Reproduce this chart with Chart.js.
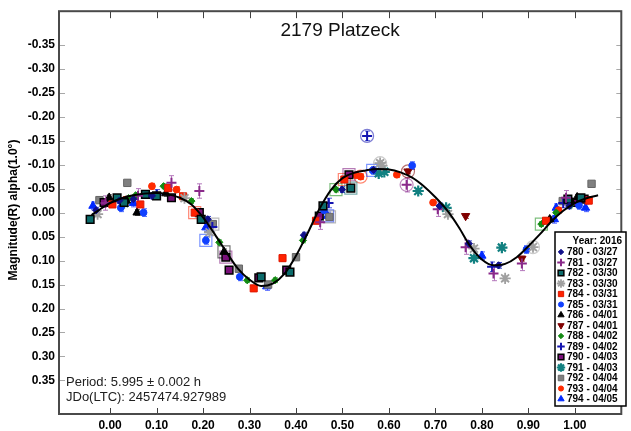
<!DOCTYPE html>
<html>
<head>
<meta charset="utf-8">
<title>2179 Platzeck</title>
<script src="https://cdn.jsdelivr.net/npm/chart.js@4.4.1/dist/chart.umd.min.js"></script>
<style>
  html, body { margin: 0; padding: 0; background: #fff; }
  #wrap { width: 631px; height: 431px; }
</style>
</head>
<body>
<div id="wrap"><canvas id="lightcurve" width="631" height="431"></canvas></div>
<script>
"use strict";

const titleText = "2179 Platzeck";
const yAxisTitle = "Magnitude(R) alpha(1.0°)";
const periodText = "Period: 5.995 ± 0.002 h";
const epochText = "JDo(LTC): 2457474.927989";
const legendHeader = "Year: 2016";

const xTicks = [0.0, 0.1, 0.2, 0.3, 0.4, 0.5, 0.6, 0.7, 0.8, 0.9, 1.0];
const yTicks = [-0.35, -0.30, -0.25, -0.20, -0.15, -0.10, -0.05, 0.00, 0.05, 0.10, 0.15, 0.20, 0.25, 0.30, 0.35];

const sessionIds = ["780", "781", "782", "783", "784", "785", "786", "787", "788", "789", "790", "791", "792", "793", "794"];
const sessionDates = ["03/27", "03/27", "03/30", "03/30", "03/31", "03/31", "04/01", "04/01", "04/02", "04/02", "04/03", "04/03", "04/04", "04/04", "04/05"];
const sessionErr = [0.006, 0.015, 0.006, 0.006, 0.006, 0.008, 0.006, 0.005, 0.005, 0.010, 0.006, 0.005, 0.006, 0.006, 0.008];

// [phase, magnitude] per session
const s780 = [[-0.030, -0.005], [0.020, -0.025], [0.050, -0.028], [0.090, -0.035], [0.210, 0.014], [0.417, 0.047], [0.499, -0.048], [0.567, -0.089], [0.709, -0.014], [0.772, 0.065], [0.836, 0.110], [0.988, -0.014]];
const s781 = [[-0.010, -0.020], [0.060, -0.035], [0.132, -0.062], [0.192, -0.045], [0.452, 0.020], [0.638, -0.058], [0.705, -0.007], [0.765, 0.072], [0.825, 0.127], [0.886, 0.106], [0.981, -0.031]];
const s782 = [[-0.043, 0.014], [0.015, -0.031], [0.030, -0.021], [0.076, -0.038], [0.100, -0.035], [0.196, 0.014], [0.325, 0.134], [0.387, 0.124], [0.458, -0.014], [0.518, -0.051], [0.985, -0.028], [1.013, -0.031]];
const s783 = [[-0.027, 0.003], [0.160, -0.030], [0.214, 0.041], [0.581, -0.103], [0.585, -0.098], [0.727, 0.003], [0.783, 0.075], [0.850, 0.137], [0.910, 0.072]];
const s784 = [[0.005, -0.017], [0.065, -0.017], [0.125, -0.051], [0.157, -0.034], [0.182, 0.000], [0.309, 0.158], [0.371, 0.095], [0.443, 0.017], [0.504, -0.069], [0.938, 0.017], [1.030, -0.025]];
const s785 = [[0.023, -0.010], [0.072, 0.000], [0.206, 0.058], [0.279, 0.134], [0.460, -0.005], [0.565, -0.088], [0.650, -0.098], [0.896, 0.077], [1.009, -0.015]];
const s786 = [[-0.002, -0.031], [0.035, -0.025], [0.058, 0.000], [0.120, -0.040], [0.245, 0.082], [0.946, 0.014], [0.992, -0.024], [1.005, -0.032]];
const s787 = [[0.641, -0.086], [0.765, 0.007], [0.886, 0.096]];
const s788 = [[0.040, -0.030], [0.055, -0.036], [0.115, -0.055], [0.175, -0.024], [0.235, 0.062], [0.295, 0.141], [0.355, 0.141], [0.415, 0.058], [0.486, -0.048], [0.928, 0.024], [0.960, 0.000], [0.990, -0.015]];
const s789 = [[0.100, -0.038], [0.220, 0.030], [0.470, -0.020], [0.553, -0.160], [0.822, 0.113], [0.975, -0.020]];
const s790 = [[-0.013, -0.021], [0.132, -0.031], [0.192, 0.000], [0.249, 0.093], [0.256, 0.120], [0.320, 0.136], [0.380, 0.120], [0.450, 0.007], [0.514, -0.079], [0.999, -0.021], [1.020, -0.028]];
const s791 = [[0.030, -0.020], [0.578, -0.082], [0.590, -0.085], [0.663, -0.045], [0.723, -0.010], [0.783, 0.095], [0.843, 0.073]];
const s792 = [[-0.023, -0.026], [0.037, -0.062], [0.221, 0.024], [0.277, 0.117], [0.340, 0.150], [0.400, 0.093], [0.472, 0.009], [0.974, -0.024], [1.036, -0.060]];
const s793 = [[0.033, -0.027], [0.090, -0.055], [0.143, -0.048], [0.530, -0.078], [0.539, -0.075], [0.617, -0.079], [0.695, -0.021], [0.965, -0.005], [1.027, -0.027]];
const s794 = [[-0.037, -0.014], [0.050, -0.020], [0.206, 0.031], [0.337, 0.154], [0.468, 0.007], [0.800, 0.090], [0.956, 0.014], [0.960, -0.010], [1.023, -0.010]];

// points that carry an extra open marker: [session, point index]
const ringedPoints = [["781", 5], ["782", 9], ["783", 3], ["783", 8], ["784", 4], ["784", 8], ["785", 2], ["785", 5], ["786", 4], ["787", 0], ["788", 8], ["788", 9], ["789", 3], ["790", 3], ["790", 8], ["792", 6], ["792", 2], ["793", 4], ["794", 4]];

// Fourier fit
const fitPhase = [-0.04, -0.02, 0.00, 0.025, 0.05, 0.075, 0.10, 0.125, 0.15, 0.175, 0.20, 0.225, 0.25, 0.275, 0.30, 0.325, 0.35, 0.375, 0.40, 0.425, 0.45, 0.475, 0.50, 0.525, 0.55, 0.575, 0.60, 0.625, 0.65, 0.675, 0.70, 0.725, 0.75, 0.775, 0.80, 0.825, 0.85, 0.875, 0.90, 0.925, 0.95, 0.975, 1.00, 1.025, 1.05];
const fitMag = [0.005, -0.008, -0.020, -0.030, -0.036, -0.040, -0.041, -0.038, -0.031, -0.017, 0.010, 0.045, 0.082, 0.117, 0.140, 0.153, 0.148, 0.128, 0.090, 0.043, -0.007, -0.047, -0.072, -0.083, -0.088, -0.091, -0.090, -0.084, -0.073, -0.055, -0.032, -0.005, 0.030, 0.070, 0.098, 0.110, 0.107, 0.093, 0.070, 0.045, 0.018, -0.004, -0.020, -0.030, -0.036];

const sessionPoints = [s780, s781, s782, s783, s784, s785, s786, s787, s788, s789, s790, s791, s792, s793, s794];

const FONT = '"Liberation Sans", Arial, sans-serif';

const markerStyles = {
  "780": { style: "rectRot", radius: 3.6, fill: "#10108a", line: "#10108a", width: 1, err: "#3848c8" },
  "781": { style: "cross", radius: 5, fill: "#8a2a8a", line: "#8a2a8a", width: 2, err: "#b478bc" },
  "782": { style: "rect", radius: 5.4, fill: "#0b6b6b", line: "#000000", width: 1.5, err: "#3a9a9a" },
  "783": { style: "star", radius: 5.6, fill: "#a0a0a0", line: "#a0a0a0", width: 1.8, err: "#b8b8b8" },
  "784": { style: "rect", radius: 5, fill: "#ff2200", line: "#e01800", width: 1, err: "#ff6a50" },
  "785": { style: "circle", radius: 3.4, fill: "#1040ff", line: "#1040ff", width: 1, err: "#4a68ff" },
  "786": { style: "triangle", radius: 4.8, fill: "#000000", line: "#000000", width: 1, err: "#505050" },
  "787": { style: "triangle", rotation: 180, radius: 4.8, fill: "#800000", line: "#800000", width: 1, err: "#a04040" },
  "788": { style: "rectRot", radius: 3.6, fill: "#128a12", line: "#128a12", width: 1, err: "#50a850" },
  "789": { style: "cross", radius: 5, fill: "#1414b0", line: "#1414b0", width: 2, err: "#4a58d8" },
  "790": { style: "rect", radius: 5.4, fill: "#7a107a", line: "#000000", width: 1.5, err: "#a860a8" },
  "791": { style: "star", radius: 5.6, fill: "#118080", line: "#118080", width: 2.2, err: "#3a9a9a" },
  "792": { style: "rect", radius: 5.2, fill: "#808080", line: "#666666", width: 1, err: "#a0a0a0" },
  "793": { style: "circle", radius: 3.4, fill: "#ff2a00", line: "#ff2a00", width: 1, err: "#ff6a50" },
  "794": { style: "triangle", radius: 4.8, fill: "#0028ff", line: "#0028ff", width: 1, err: "#4a60ff" },
};

const ringShape = {
  "780": "rect", "781": "circle", "782": "rect", "783": "circle", "784": "rect",
  "785": "rect", "786": "rect", "787": "circle", "788": "rect", "789": "circle",
  "790": "rect", "791": "circle", "792": "rect", "793": "circle", "794": "rect",
};

function withAlpha(hex, alpha) {
  const n = parseInt(hex.slice(1), 16);
  return `rgba(${(n >> 16) & 255}, ${(n >> 8) & 255}, ${n & 255}, ${alpha})`;
}

function toXY(pairs) {
  return pairs.map(([x, y]) => ({ x, y }));
}

function buildDatasets() {
  const datasets = [];

  datasets.push({
    label: "fit",
    data: fitPhase.map((x, i) => ({ x, y: fitMag[i] })),
    showLine: true,
    borderColor: "#000000",
    borderWidth: 2,
    pointRadius: 0,
    cubicInterpolationMode: "monotone",
    order: 0,
  });

  sessionIds.forEach((id, i) => {
    const m = markerStyles[id];
    datasets.push({
      label: `${id} - ${sessionDates[i]}`,
      data: toXY(sessionPoints[i]),
      pointStyle: m.style,
      pointRadius: m.radius,
      pointRotation: m.rotation || 0,
      pointBackgroundColor: m.fill,
      pointBorderColor: m.line,
      pointBorderWidth: m.width,
      order: 1,
    });
  });

  for (const [id, index] of ringedPoints) {
    const i = sessionIds.indexOf(id);
    const [x, y] = sessionPoints[i][index];
    const shape = ringShape[id];
    datasets.push({
      label: `ring ${id}`,
      data: [{ x, y }],
      pointStyle: shape,
      pointRadius: shape === "rect" ? 8.5 : 6.5,
      pointBackgroundColor: "rgba(0,0,0,0)",
      pointBorderColor: withAlpha(markerStyles[id].fill, 0.55),
      pointBorderWidth: 1.2,
      order: 2,
    });
  }
  return datasets;
}

const errorBars = {
  id: "errorBars",
  beforeDatasetsDraw(chart) {
    const { ctx, scales } = chart;
    ctx.save();
    ctx.lineWidth = 1;
    sessionIds.forEach((id, i) => {
      ctx.strokeStyle = markerStyles[id].err;
      const e = sessionErr[i];
      for (const [p, m] of sessionPoints[i]) {
        const x = Math.round(scales.x.getPixelForValue(p)) + 0.5;
        const y1 = scales.y.getPixelForValue(m - e);
        const y2 = scales.y.getPixelForValue(m + e);
        ctx.beginPath();
        ctx.moveTo(x, y1);
        ctx.lineTo(x, y2);
        ctx.moveTo(x - 2.5, y1);
        ctx.lineTo(x + 2.5, y1);
        ctx.moveTo(x - 2.5, y2);
        ctx.lineTo(x + 2.5, y2);
        ctx.stroke();
      }
    });
    ctx.restore();
  },
};

const frame = {
  id: "frame",
  afterDraw(chart) {
    const { ctx, chartArea: a, scales } = chart;
    ctx.save();

    // inward tick marks
    ctx.lineWidth = 1;
    ctx.strokeStyle = "#404040";
    for (const v of xTicks) {
      const x = Math.round(scales.x.getPixelForValue(v)) + 0.5;
      ctx.beginPath();
      ctx.moveTo(x, a.top);
      ctx.lineTo(x, a.top + 7);
      ctx.moveTo(x, a.bottom);
      ctx.lineTo(x, a.bottom - 6);
      ctx.stroke();
    }
    ctx.strokeStyle = "#a8a8a8";
    for (const v of yTicks) {
      const y = Math.round(scales.y.getPixelForValue(v)) + 0.5;
      ctx.beginPath();
      ctx.moveTo(a.left, y);
      ctx.lineTo(a.left + 6, y);
      ctx.moveTo(a.right, y);
      ctx.lineTo(a.right - 5, y);
      ctx.stroke();
    }

    ctx.lineWidth = 2;
    ctx.strokeStyle = "#4a4a4a";
    ctx.strokeRect(a.left, a.top, a.right - a.left, a.bottom - a.top);

    ctx.fillStyle = "#111111";
    ctx.textAlign = "center";
    ctx.textBaseline = "middle";
    ctx.font = `19px ${FONT}`;
    ctx.fillText(titleText, (a.left + a.right) / 2, 31);

    ctx.font = `13px ${FONT}`;
    ctx.textAlign = "left";
    ctx.fillStyle = "#202020";
    ctx.fillText(periodText, 66, 382);
    ctx.fillText(epochText, 66, 397);

    ctx.save();
    ctx.translate(14, 210);
    ctx.rotate(-Math.PI / 2);
    ctx.textAlign = "center";
    ctx.fillStyle = "#000000";
    ctx.font = `bold 12px ${FONT}`;
    ctx.fillText(yAxisTitle, 0, 0);
    ctx.restore();

    ctx.restore();
  },
};

const sessionLegend = {
  id: "sessionLegend",
  afterDraw(chart) {
    const { ctx } = chart;
    const left = 555, top = 232, width = 71, height = 174;
    const rowStart = 252, rowStep = 10.5;
    ctx.save();
    ctx.fillStyle = "#ffffff";
    ctx.fillRect(left, top, width, height);
    ctx.lineWidth = 1.5;
    ctx.strokeStyle = "#000000";
    ctx.strokeRect(left, top, width, height);

    ctx.fillStyle = "#000000";
    ctx.font = `bold 10px ${FONT}`;
    ctx.textBaseline = "middle";
    ctx.textAlign = "right";
    ctx.fillText(legendHeader, left + width - 4, top + 9);

    ctx.textAlign = "left";
    sessionIds.forEach((id, i) => {
      const y = rowStart + i * rowStep;
      const m = markerStyles[id];
      ctx.fillStyle = m.fill;
      ctx.strokeStyle = m.line;
      ctx.lineWidth = m.width;
      Chart.helpers.drawPoint(ctx, {
        pointStyle: m.style,
        radius: m.radius * 0.75,
        rotation: m.rotation || 0,
        borderWidth: m.width,
      }, left + 6, y);
      ctx.fillStyle = "#000000";
      ctx.font = `bold 10px ${FONT}`;
      ctx.fillText(`${id} - ${sessionDates[i]}`, left + 12, y + 0.5);
    });
    ctx.restore();
  },
};

new Chart(document.getElementById("lightcurve").getContext("2d"), {
  type: "scatter",
  data: { datasets: buildDatasets() },
  plugins: [errorBars, frame, sessionLegend],
  options: {
    responsive: false,
    animation: false,
    devicePixelRatio: 1,
    layout: { padding: { left: 0, right: 1, top: 7, bottom: 0 } },
    plugins: {
      legend: { display: false },
      tooltip: { enabled: false },
    },
    scales: {
      x: {
        type: "linear",
        min: -0.11,
        max: 1.10,
        afterBuildTicks: (scale) => { scale.ticks = xTicks.map((value) => ({ value })); },
        afterFit: (scale) => { scale.height = 17; },
        grid: { display: false, drawTicks: false },
        border: { display: false },
        ticks: {
          padding: 4,
          color: "#000000",
          font: { family: FONT, size: 12, weight: "bold" },
          callback: (v) => Number(v).toFixed(2),
        },
      },
      y: {
        type: "linear",
        reverse: true,
        min: -0.42,
        max: 0.42,
        afterBuildTicks: (scale) => { scale.ticks = yTicks.map((value) => ({ value })); },
        afterFit: (scale) => { scale.width = 59; },
        grid: { display: false, drawTicks: false },
        border: { display: false },
        ticks: {
          padding: 4,
          color: "#000000",
          font: { family: FONT, size: 12, weight: "bold" },
          callback: (v) => Number(v).toFixed(2),
        },
      },
    },
  },
});
</script>
</body>
</html>
